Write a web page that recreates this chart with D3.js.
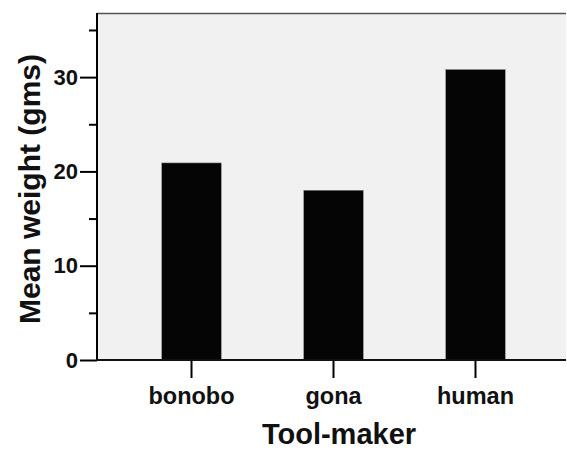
<!DOCTYPE html>
<html>
<head>
<meta charset="utf-8">
<script src="https://cdn.jsdelivr.net/npm/d3@7"></script>
<style>
  html, body { margin: 0; padding: 0; background: #fff; }
  svg { display: block; font-family: "Liberation Sans", Arial, Helvetica, sans-serif; }
</style>
</head>
<body>
<svg id="chart" width="567" height="450"></svg>
<script>
const categories = ["bonobo", "gona", "human"];
const meanWeight = [20.9, 18.0, 30.8];
const majorTicks = [0, 10, 20, 30];
const minorTicks = [5, 15, 25, 35];
const xTitle = "Tool-maker";
const yTitle = "Mean weight (gms)";

const svg = d3.select("#chart");
const plot = { left: 97, right: 567, top: 13, bottom: 360 };

const x = d3.scaleBand().domain(categories).range([99, 568]).paddingInner(0.581).paddingOuter(0.442);
const y = d3.scaleLinear().domain([0, 36.8]).range([plot.bottom, plot.top]);

// plot background
svg.append("rect")
  .attr("x", plot.left).attr("y", plot.top)
  .attr("width", plot.right - plot.left - 1).attr("height", plot.bottom - plot.top)
  .attr("fill", "#f0f1f0");

// top frame line
svg.append("line")
  .attr("x1", plot.left).attr("x2", plot.right - 1)
  .attr("y1", plot.top + 0.5).attr("y2", plot.top + 0.5)
  .attr("stroke", "#555").attr("stroke-width", 1.5);

// bars
svg.append("g").selectAll("rect")
  .data(categories.map((c, i) => ({ c, v: meanWeight[i] })))
  .join("rect")
  .attr("x", d => x(d.c))
  .attr("width", x.bandwidth())
  .attr("y", d => y(d.v))
  .attr("height", d => y(0) - y(d.v))
  .attr("fill", "#050505")
  .attr("stroke", "#888").attr("stroke-width", 0.5);

// y axis major
const yAxis = svg.append("g")
  .attr("transform", `translate(${plot.left},0)`)
  .call(d3.axisLeft(y).tickValues(majorTicks).tickSize(17).tickPadding(2).tickFormat(d3.format("d")));
yAxis.select(".domain").remove();
yAxis.selectAll(".tick line").attr("stroke", "#000").attr("stroke-width", 2);
yAxis.selectAll(".tick text")
  .attr("font-size", 22).attr("font-weight", "bold").attr("fill", "#111")
  .attr("font-family", "Liberation Sans, Arial, sans-serif");

// y axis minor
const yMinor = svg.append("g")
  .attr("transform", `translate(${plot.left},0)`)
  .call(d3.axisLeft(y).tickValues(minorTicks).tickSize(8).tickFormat(""));
yMinor.select(".domain").remove();
yMinor.selectAll(".tick line").attr("stroke", "#000").attr("stroke-width", 2);

// x axis
const xAxis = svg.append("g")
  .attr("transform", `translate(0,${plot.bottom})`)
  .call(d3.axisBottom(x).tickSize(18).tickPadding(9));
xAxis.select(".domain").remove();
xAxis.selectAll(".tick line").attr("stroke", "#000").attr("stroke-width", 2);
xAxis.selectAll(".tick text")
  .attr("font-size", 23.5).attr("font-weight", "bold").attr("fill", "#111")
  .attr("font-family", "Liberation Sans, Arial, sans-serif");

// axis lines
svg.append("line")
  .attr("x1", plot.left).attr("x2", plot.left)
  .attr("y1", plot.top).attr("y2", plot.bottom + 1)
  .attr("stroke", "#000").attr("stroke-width", 2);
svg.append("line")
  .attr("x1", plot.left - 1).attr("x2", plot.right - 1)
  .attr("y1", plot.bottom).attr("y2", plot.bottom)
  .attr("stroke", "#111").attr("stroke-width", 2);

// titles
svg.append("text")
  .attr("x", 339).attr("y", 444)
  .attr("text-anchor", "middle")
  .attr("font-size", 29).attr("font-weight", "bold").attr("fill", "#111")
  .text(xTitle);

svg.append("text")
  .attr("transform", "translate(40,189) rotate(-90)")
  .attr("text-anchor", "middle")
  .attr("font-size", 30).attr("font-weight", "bold").attr("fill", "#111")
  .text(yTitle);
</script>
</body>
</html>
